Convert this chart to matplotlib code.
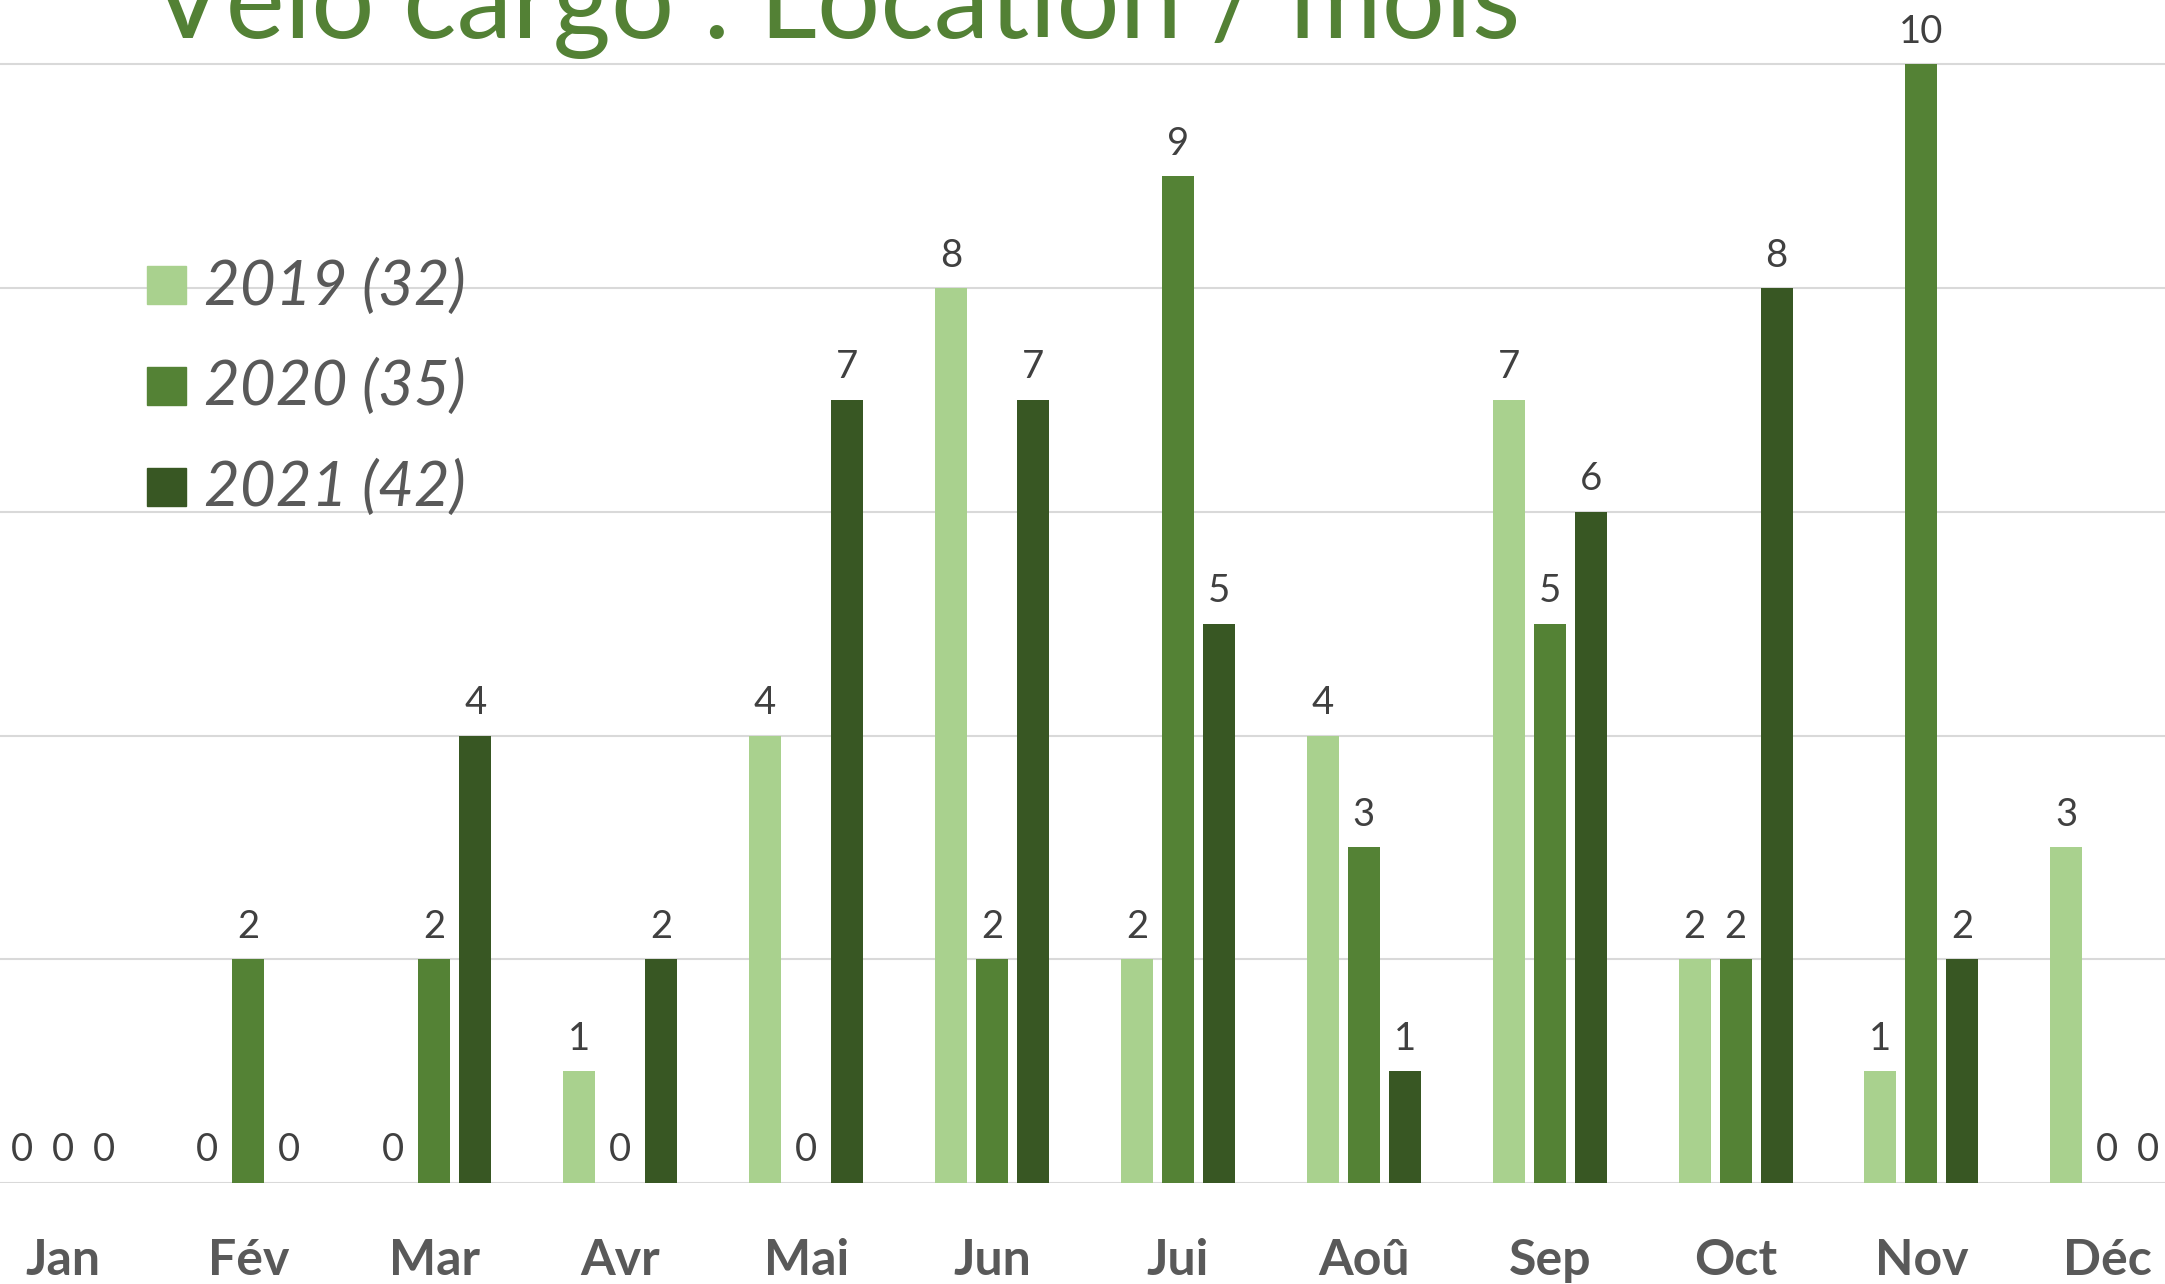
import matplotlib
matplotlib.use("Agg")
import matplotlib.pyplot as plt
from matplotlib.patches import Rectangle
import numpy as np

# data
months = ["Jan", "Fév", "Mar", "Avr", "Mai", "Jun", "Jui", "Aoû", "Sep", "Oct", "Nov", "Déc"]
loc_2019 = [0, 0, 0, 1, 4, 8, 2, 4, 7, 2, 1, 3]
loc_2020 = [0, 2, 2, 0, 0, 2, 9, 3, 5, 2, 10, 0]
loc_2021 = [0, 0, 4, 2, 7, 7, 5, 1, 6, 8, 2, 0]
series_labels = ["2019 (32)", "2020 (35)", "2021 (42)"]
colors = ["#A9D18E", "#548235", "#385723"]

W, H = 2165, 1284
plt.rcParams['font.family'] = ['Lato', 'DejaVu Sans']

fig = plt.figure(figsize=(W / 100, H / 100), dpi=100)
ax = fig.add_axes([0, 101 / H, 1, 1 - 101 / H])

x = np.arange(len(months))
width = 0.172
step = 0.2205

for k, (vals, col) in enumerate(zip([loc_2019, loc_2020, loc_2021], colors)):
    pos = x + (k - 1) * step
    ax.bar(pos, vals, width, color=col, zorder=3)
    for px, v in zip(pos, vals):
        ax.annotate(str(v), (px, v), xytext=(0, 15.5), textcoords="offset points",
                    ha="center", va="baseline", fontsize=27.5, color="#404040")

ax.set_xlim(-0.336, 11.31)
ax.set_ylim(0, 10.575)
ax.set_yticks(range(0, 11, 2))
ax.set_xticks([])
ax.yaxis.grid(True, color="#D9D9D9", linewidth=1.5)
ax.set_axisbelow(True)
ax.tick_params(left=False, labelleft=False)
for s in ax.spines.values():
    s.set_visible(False)

# month labels under the axis
trans = matplotlib.transforms.blended_transform_factory(ax.transData, fig.transFigure)
for i, m in enumerate(months):
    ax.text(i, 1 - 1275 / H, m, transform=trans, ha="center", va="baseline",
            fontsize=36, fontweight="bold", color="#595959", clip_on=False)

# title (cut at the top of the picture, as in the source)
fig.text(150 / W, 1 - 38 / H, "Vélo cargo : Location / mois", ha="left", va="baseline",
         fontsize=80.5, color="#538135")

# legend
sq_top = [266, 367, 468]
txt_base = [305, 405, 506]
for lab, col, t, b in zip(series_labels, colors, sq_top, txt_base):
    fig.patches.append(Rectangle((147 / W, 1 - (t + 38) / H), 39 / W, 38 / H,
                                 transform=fig.transFigure, color=col))
    fig.text(204 / W, 1 - b / H, lab, ha="left", va="baseline", fontsize=44.5,
             style="italic", color="#595959")

fig.savefig("out.png", dpi=100)
